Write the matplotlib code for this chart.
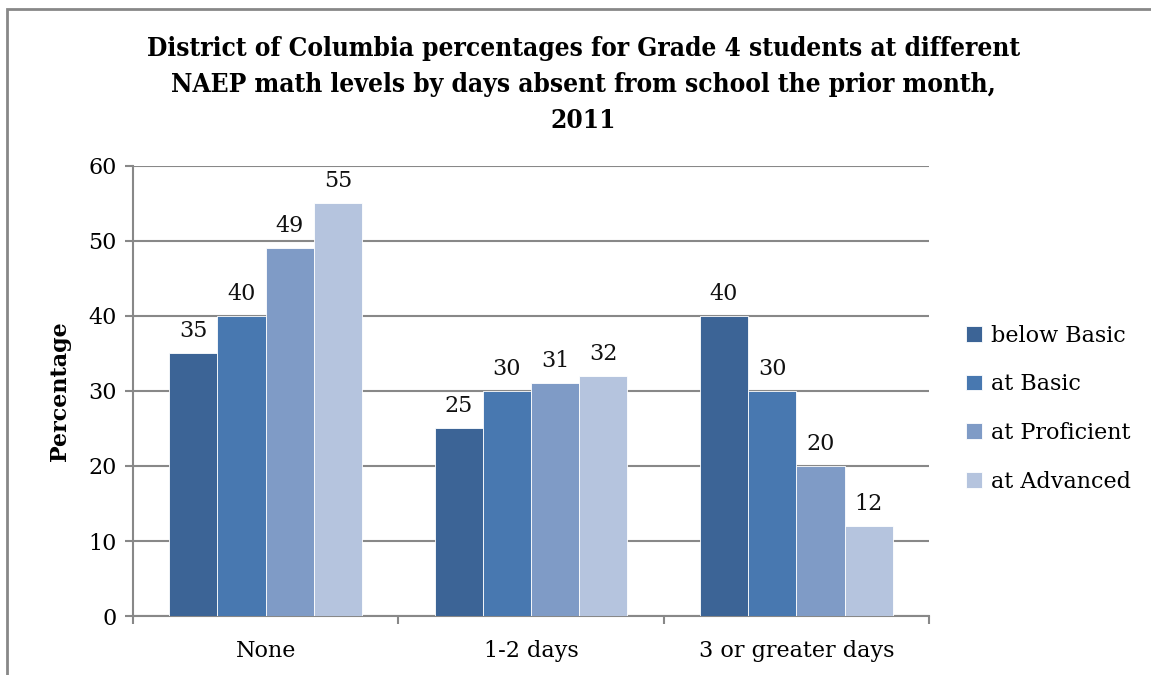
import matplotlib
matplotlib.use("Agg")
import matplotlib.pyplot as plt
from matplotlib.patches import Rectangle
import numpy as np

categories = ["None", "1-2 days", "3 or greater days"]
series_names = ["below Basic", "at Basic", "at Proficient", "at Advanced"]
below_basic = [35, 25, 40]
at_basic = [40, 30, 30]
at_proficient = [49, 31, 20]
at_advanced = [55, 32, 12]
series_values = [below_basic, at_basic, at_proficient, at_advanced]
colors = ["#3C6496", "#4878B0", "#7F9BC6", "#B5C4DE"]
yticks = [0, 10, 20, 30, 40, 50, 60]
title = ("District of Columbia percentages for Grade 4 students at different\n"
         "NAEP math levels by days absent from school the prior month,\n2011")

serif = ["DejaVu Serif"]
fig = plt.figure(figsize=(11.51, 6.75), dpi=100)
ax = fig.add_axes([0.1156, 0.0874, 0.6915, 0.6667])

n = len(series_names)
w = 1.0 / (n + 1.5)
x = np.arange(len(categories))
for i, (name, vals, c) in enumerate(zip(series_names, series_values, colors)):
    pos = x + (i - (n - 1) / 2) * w
    bars = ax.bar(pos, vals, width=w, color=c, edgecolor="white", linewidth=0.6,
                  label=name, zorder=3)
    for b, v in zip(bars, vals):
        ax.annotate(str(v), (b.get_x() + b.get_width() / 2, v), xytext=(0, 8),
                    textcoords="offset points", ha="center", va="bottom",
                    fontsize=16, family=serif, color="#111111")

ax.set_ylim(0, 60)
ax.set_xlim(-0.5, len(categories) - 0.5)
ax.set_yticks(yticks)
ax.set_yticklabels([str(t) for t in yticks], family=serif, fontsize=16)
ax.set_xticks(x)
ax.set_xticklabels(categories, family=serif, fontsize=16)
ax.set_xticks(np.arange(-0.5, len(categories), 1.0), minor=True)
ax.tick_params(axis="x", which="major", length=0, pad=17)
ax.tick_params(axis="x", which="minor", length=6, width=1.5, color="#888888", direction="out")
ax.tick_params(axis="y", length=6, width=1.5, color="#888888", direction="out", pad=6)
ax.yaxis.grid(True, color="#888888", linewidth=1.5, zorder=0)
ax.set_axisbelow(True)
for s in ["top", "right"]:
    ax.spines[s].set_visible(False)
for s in ["left", "bottom"]:
    ax.spines[s].set_color("#888888")
    ax.spines[s].set_linewidth(1.5)

ax.set_ylabel("Percentage", family=serif, fontsize=16, fontweight="bold", labelpad=12)

fig.text(0.507, 0.947, title, ha="center", va="top", family=serif,
         fontweight="bold", fontsize=18.8, linespacing=1.56, stretch="condensed")

leg = ax.legend(loc="center left", bbox_to_anchor=(1.022, 0.461), frameon=False,
                prop={"family": serif, "size": 16}, handlelength=0.7,
                handleheight=0.7, handletextpad=0.4, labelspacing=1.2)

# figure border (top and left only visible)
fig.add_artist(Rectangle((0.006, -0.1), 1.2, 0.986 + 0.1, transform=fig.transFigure,
                         fill=False, edgecolor="#888888", linewidth=2))

fig.savefig("out.png", dpi=100)
